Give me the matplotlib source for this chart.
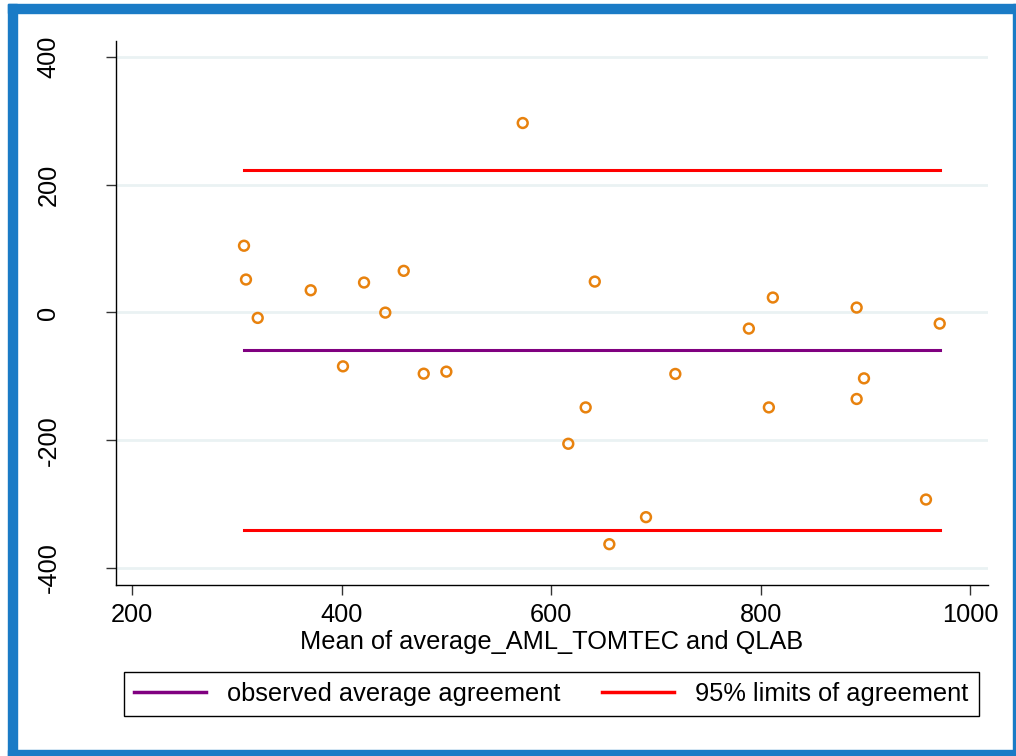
import matplotlib
matplotlib.use('Agg')
import matplotlib.pyplot as plt
from matplotlib.lines import Line2D
from matplotlib.patches import Rectangle

plt.rcParams['font.family'] = ['Liberation Sans', 'DejaVu Sans']
plt.rcParams['axes.unicode_minus'] = False

# mean of the two methods / difference between them
mean_vals = [306.6, 308.5, 319.7, 370.3, 401.1, 421.2, 441.5, 459.1, 478.2, 499.8,
             572.7, 616.2, 632.8, 641.5, 655.4, 690.4, 718.4, 807.7, 788.6, 811.5,
             891.5, 891.5, 898.5, 970.8, 957.7]
diff_vals = [104.5, 51.6, -8.5, 34.8, -84.3, 46.9, -0.2, 65.2, -95.8, -92.6,
             296.6, -205.5, -148.6, 48.4, -362.7, -320.4, -96.2, -148.6, -25.2, 23.4,
             7.7, -135.4, -103.1, -17.4, -292.8]

mean_diff = -58.4
upper_loa = 223.5
lower_loa = -340.3

xticks = [200, 400, 600, 800, 1000]
yticks = [-400, -200, 0, 200, 400]

fs = 18.3

fig = plt.figure(figsize=(10.16, 7.56), dpi=100)
fig.patch.set_facecolor('white')

# blue frame around the graph
blue = '#1a7bc6'
fig.patches.append(Rectangle((8/1016, 0), 9/1016, 752/756, transform=fig.transFigure,
                             color=blue, zorder=0))
fig.patches.append(Rectangle((8/1016, 743/756), 1008/1016, 9/756, transform=fig.transFigure,
                             color=blue, zorder=0))
fig.patches.append(Rectangle((1013/1016, 0), 3/1016, 752/756, transform=fig.transFigure,
                             color=blue, zorder=0))
fig.patches.append(Rectangle((8/1016, 0), 1008/1016, 6/756, transform=fig.transFigure,
                             color=blue, zorder=0))

ax = fig.add_axes([116/1016, 1 - 585/756, 872/1016, 544/756])

ax.scatter(mean_vals, diff_vals, s=50, facecolors='none', edgecolors='#e8820e',
           linewidths=1.8, zorder=3)

xmin, xmax = min(mean_vals), max(mean_vals)
ax.plot([xmin, xmax], [mean_diff, mean_diff], color='#800080', lw=2.2, zorder=2)
ax.plot([xmin, xmax], [upper_loa, upper_loa], color='#ff0000', lw=2.2, zorder=2)
ax.plot([xmin, xmax], [lower_loa, lower_loa], color='#ff0000', lw=2.2, zorder=2)

ax.set_xlim(184.4, 1016.9)
ax.set_ylim(-426.6, 425)
ax.set_xticks(xticks)
ax.set_yticks(yticks)
ax.grid(axis='y', color='#eaf2f3', lw=2)
ax.set_axisbelow(True)

for s in ['top', 'right']:
    ax.spines[s].set_visible(False)
ax.spines['left'].set_linewidth(1)
ax.spines['bottom'].set_linewidth(1)

ax.tick_params(axis='both', length=7, width=1, color='#333333', labelsize=fs)
ax.tick_params(axis='x', pad=6)
ax.tick_params(axis='y', pad=33)
for lab in ax.get_yticklabels():
    lab.set_rotation(90)
    lab.set_va('center')

fig.text(552/1016, 1 - 649/756, 'Mean of average_AML_TOMTEC and QLAB',
         ha='center', va='baseline', fontsize=fs)

handles = [Line2D([], [], color='#800080', lw=2.5),
           Line2D([], [], color='#ff0000', lw=2.5)]
leg = fig.legend(handles, ['observed average agreement', '95% limits of agreement'],
                 loc='lower left', bbox_to_anchor=(124/1016, 40/756, 855/1016, 48/756),
                 mode='expand', ncol=2, borderaxespad=0, fontsize=fs,
                 handlelength=2.83, handletextpad=0.83, borderpad=0.4,
                 fancybox=False, framealpha=1, edgecolor='black')
leg.get_frame().set_linewidth(1)

fig.savefig('out.png', dpi=100)
